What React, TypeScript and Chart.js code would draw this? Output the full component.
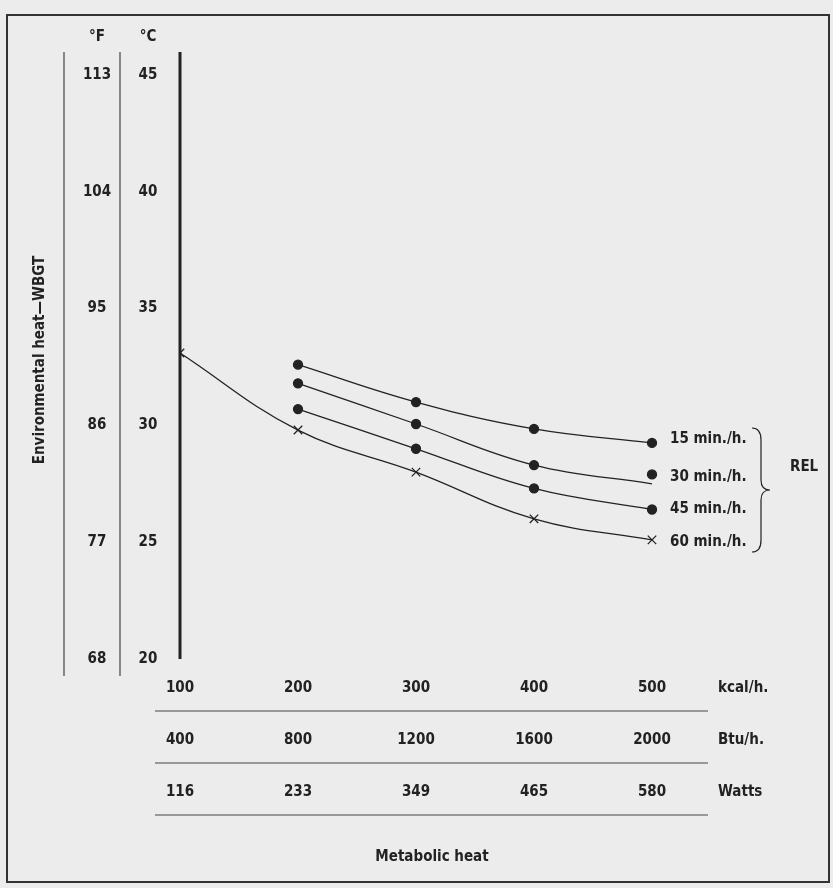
import React, { useEffect, useRef } from "react";
import { Chart, registerables } from "chart.js";
Chart.register(...registerables);

const kcal = [100, 200, 300, 400, 500];
const btu = ["400", "800", "1200", "1600", "2000"];
const watts = ["116", "233", "349", "465", "580"];
const celsius = [45, 40, 35, 30, 25, 20];
const fahrenheit = ["113", "104", "95", "86", "77", "68"];
const rel60 = [33.1, 29.8, 28.0, 26.0, 25.1];
const rel15 = [32.6, 31.0, 29.85, 29.25];
const rel30Line = [31.8, 30.06, 28.3, 27.5];
const rel30Pts = [31.8, 30.06, 28.3, 27.9];
const rel45 = [30.7, 29.0, 27.3, 26.4];
const curveLabels = ["15 min./h.", "30 min./h.", "45 min./h.", "60 min./h."];
const curveLabelY = [29.4, 27.8, 26.4, 25.0];

const FONT = '"Liberation Sans Narrow", "DejaVu Sans Condensed", sans-serif';
const INK = "#222";

const pts = (xs: number[], ys: number[]) => ys.map((y, i) => ({ x: xs[i], y }));

export default function App() {
  const ref = useRef<HTMLCanvasElement>(null);
  useEffect(() => {
    const deco = {
      id: "deco",
      beforeDraw(c: any) {
        const ctx = c.ctx;
        ctx.save();
        ctx.fillStyle = "#ececec";
        ctx.fillRect(0, 0, c.width, c.height);
        ctx.restore();
      },
      afterDraw(c: any) {
        const ctx = c.ctx;
        const xs = c.scales.x, ys = c.scales.y;
        ctx.save();
        ctx.strokeStyle = "#333";
        ctx.lineWidth = 2;
        ctx.strokeRect(7, 15, 822, 867);
        ctx.fillStyle = INK;
        ctx.font = `bold 15px ${FONT}`;
        ctx.textAlign = "center";
        ctx.textBaseline = "middle";
        ctx.fillText("°F", 97, 37);
        ctx.fillText("°C", 148, 37);
        celsius.forEach((t, i) => {
          const y = ys.getPixelForValue(t);
          ctx.fillText(String(t), 148, y);
          ctx.fillText(fahrenheit[i], 97, y);
        });
        ctx.lineWidth = 1.2;
        ctx.strokeStyle = "#444";
        [64, 120].forEach((x) => {
          ctx.beginPath(); ctx.moveTo(x, 52); ctx.lineTo(x, 676); ctx.stroke();
        });
        ctx.lineWidth = 3;
        ctx.strokeStyle = INK;
        const ax = xs.getPixelForValue(100);
        ctx.beginPath(); ctx.moveTo(ax, 52); ctx.lineTo(ax, ys.getPixelForValue(20)); ctx.stroke();
        ctx.save();
        ctx.translate(40, 360); ctx.rotate(-Math.PI / 2);
        ctx.fillText("Environmental heat—WBGT", 0, 0);
        ctx.restore();
        const rows: [string[], string, number][] = [
          [kcal.map(String), "kcal/h.", 688],
          [btu, "Btu/h.", 740],
          [watts, "Watts", 792],
        ];
        ctx.lineWidth = 1.2;
        ctx.strokeStyle = "#444";
        rows.forEach(([labs, unit, y]) => {
          ctx.textAlign = "center";
          labs.forEach((l, i) => ctx.fillText(l, xs.getPixelForValue(kcal[i]), y));
          ctx.textAlign = "left";
          ctx.fillText(unit, 718, y);
          ctx.beginPath(); ctx.moveTo(155, y + 23); ctx.lineTo(708, y + 23); ctx.stroke();
        });
        ctx.textAlign = "center";
        ctx.fillText("Metabolic heat", 432, 857);
        ctx.textAlign = "left";
        curveLabels.forEach((l, i) => ctx.fillText(l, 670, ys.getPixelForValue(curveLabelY[i])));
        ctx.fillText("REL", 790, 467);
        ctx.strokeStyle = INK; ctx.lineWidth = 1.2;
        const bx = 752, t = 428, b = 552, m = (t + b) / 2;
        ctx.beginPath();
        ctx.moveTo(bx, t);
        ctx.quadraticCurveTo(bx + 9, t, bx + 9, t + 12);
        ctx.lineTo(bx + 9, m - 10);
        ctx.quadraticCurveTo(bx + 9, m, bx + 18, m);
        ctx.quadraticCurveTo(bx + 9, m, bx + 9, m + 10);
        ctx.lineTo(bx + 9, b - 12);
        ctx.quadraticCurveTo(bx + 9, b, bx, b);
        ctx.stroke();
        ctx.restore();
      },
    };
    const lineDs = (data: any, pointStyle: any = "circle", r = 0) => ({
      type: "line" as const,
      data,
      borderColor: INK,
      borderWidth: 1.3,
      backgroundColor: INK,
      pointRadius: r,
      pointStyle,
      pointBorderWidth: 1.3,
      tension: 0.4,
      showLine: true,
    });
    const chart = new Chart(ref.current!, {
      type: "line",
      data: {
        datasets: [
          lineDs(pts(kcal, rel60), "crossRot", 6),
          lineDs(pts(kcal.slice(1), rel15), "circle", 4.5),
          lineDs(pts(kcal.slice(1), rel30Line)),
          { ...lineDs(pts(kcal.slice(1), rel30Pts), "circle", 4.5), showLine: false },
          lineDs(pts(kcal.slice(1), rel45), "circle", 4.5),
        ],
      },
      options: {
        animation: false,
        responsive: false,
        devicePixelRatio: 1,
        layout: { padding: { left: 180, right: 63, top: 75, bottom: 229 } },
        plugins: { legend: { display: false }, tooltip: { enabled: false } },
        scales: {
          x: { type: "linear", min: 100, max: 600, display: false },
          y: { type: "linear", min: 20, max: 45, display: false },
        },
      },
      plugins: [deco],
    });
    return () => chart.destroy();
  }, []);
  return (
    <div style={{ position: "fixed", left: 0, top: 0 }}>
      <canvas ref={ref} width={833} height={888} style={{ display: "block" }} />
    </div>
  );
}
